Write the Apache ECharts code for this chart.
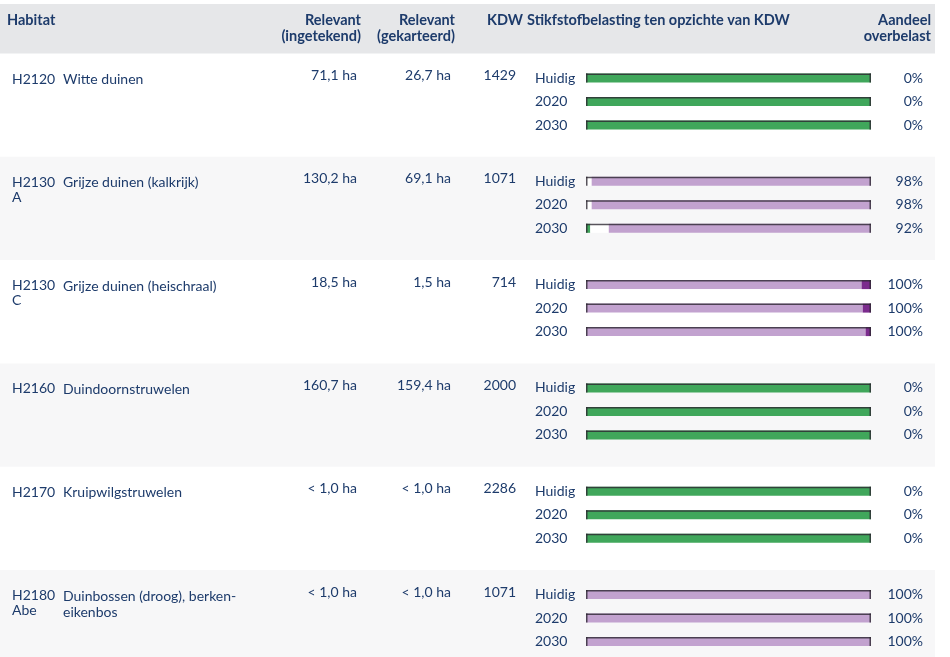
<!DOCTYPE html>
<html>
<head>
<meta charset="utf-8">
<script src="https://cdn.jsdelivr.net/npm/echarts@6/dist/echarts.min.js"></script>
<style>html,body{margin:0;padding:0;background:#fff}#c{width:950px;height:657px}</style>
</head>
<body>
<div id="c"></div>
<script>
// ---- data ----
const codes = ["H2120", "H2130\nA", "H2130\nC", "H2160", "H2170", "H2180\nAbe"];
const names = ["Witte duinen", "Grijze duinen (kalkrijk)", "Grijze duinen (heischraal)", "Duindoornstruwelen", "Kruipwilgstruwelen", "Duinbossen (droog), berken-\neikenbos"];
const ingetekend = ["71,1 ha", "130,2 ha", "18,5 ha", "160,7 ha", "< 1,0 ha", "< 1,0 ha"];
const gekarteerd = ["26,7 ha", "69,1 ha", "1,5 ha", "159,4 ha", "< 1,0 ha", "< 1,0 ha"];
const kdw = [1429, 1071, 714, 2000, 2286, 1071];
const years = ["Huidig", "2020", "2030"];
// share of area per class (%), per habitat, per year [Huidig, 2020, 2030]
const below = [[100, 100, 100], [0, 0, 1.5], [0, 0, 0], [100, 100, 100], [100, 100, 100], [0, 0, 0]];
const nearKdw = [[0, 0, 0], [2, 2, 6.5], [0, 0, 0], [0, 0, 0], [0, 0, 0], [0, 0, 0]];
const over = [[0, 0, 0], [98, 98, 92], [96.7, 97.1, 98.1], [0, 0, 0], [0, 0, 0], [100, 100, 100]];
const strongOver = [[0, 0, 0], [0, 0, 0], [3.3, 2.9, 1.9], [0, 0, 0], [0, 0, 0], [0, 0, 0]];
const overLabels = [["0%", "0%", "0%"], ["98%", "98%", "92%"], ["100%", "100%", "100%"], ["0%", "0%", "0%"], ["0%", "0%", "0%"], ["100%", "100%", "100%"]];
const headers = {
  habitat: "Habitat",
  rel1: "Relevant\n(ingetekend)",
  rel2: "Relevant\n(gekarteerd)",
  kdw: "KDW",
  stik: "Stikfstofbelasting ten opzichte van KDW",
  aandeel: "Aandeel\noverbelast"
};

// ---- layout ----
const FONT = "Lato";
const TXT = "#1d3b6b";
const rowTop0 = 53.5, rowH = 103.3, tableW = 935;
const barLeft = 586, barRight = 871, rowStep = 23.5, barH = 9;
const colors = { below: "#40a75b", near: "#ffffff", over: "#c2a2cf", strong: "#7b2b8d" };

const chart = echarts.init(document.getElementById('c'), null, { renderer: 'canvas' });

const grids = [], xAxes = [], yAxes = [], series = [], graphics = [];

// backgrounds
graphics.push({ type: 'rect', z: -10, shape: { x: 0, y: 4, width: tableW, height: rowTop0 - 4 }, style: { fill: '#e6e7e9' } });
codes.forEach((c, i) => {
  if (i % 2 === 1) {
    graphics.push({ type: 'rect', z: -10, shape: { x: 0, y: rowTop0 + i * rowH, width: tableW, height: rowH }, style: { fill: '#f7f7f8' } });
  }
});

function txt(text, x, y, align, opts) {
  opts = opts || {};
  graphics.push({
    type: 'text', z: 10, x: x, y: y,
    style: {
      text: text, align: align, verticalAlign: opts.va || 'middle',
      fill: TXT, fontFamily: FONT, fontSize: opts.size || 14,
      fontWeight: opts.bold ? 'bold' : 'normal', lineHeight: opts.lh || 16
    }
  });
}

// header
const HS = 14.5;
txt(headers.habitat, 7, 20, 'left', { bold: true, size: HS });
txt(headers.rel1, 361, 12, 'right', { bold: true, va: 'top', size: HS });
txt(headers.rel2, 455, 12, 'right', { bold: true, va: 'top', size: HS });
txt(headers.kdw, 487, 20, 'left', { bold: true, size: HS });
txt(headers.stik, 527, 20, 'left', { bold: true, size: HS });
txt(headers.aandeel, 931, 12, 'right', { bold: true, va: 'top', size: HS });

codes.forEach((code, i) => {
  const top = rowTop0 + i * rowH;
  txt(code, 12, top + 18, 'left', { va: 'top', lh: 15 });
  txt(names[i], 63, top + 18, 'left', { va: 'top', lh: 16 });
  txt(ingetekend[i], 357, top + 22, 'right');
  txt(gekarteerd[i], 451, top + 22, 'right');
  txt(String(kdw[i]), 516, top + 22, 'right');

  const gTop = top + 24.5 - rowStep / 2;
  grids.push({ left: barLeft, width: barRight - barLeft, top: gTop, height: rowStep * 3 });
  xAxes.push({ gridIndex: i, type: 'value', min: 0, max: 100, show: false });
  yAxes.push({
    gridIndex: i, type: 'category', data: years, inverse: true, position: 'left',
    axisLine: { show: false }, axisTick: { show: false }, splitLine: { show: false },
    axisLabel: { align: 'left', margin: barLeft - 535, color: TXT, fontFamily: FONT, fontSize: 14 }
  });
  yAxes.push({
    gridIndex: i, type: 'category', data: overLabels[i], inverse: true, position: 'right',
    axisLine: { show: false }, axisTick: { show: false }, splitLine: { show: false },
    axisLabel: { align: 'right', margin: 923 - barRight, color: TXT, fontFamily: FONT, fontSize: 14 }
  });
  const yIdx = i * 2;
  const seg = (name, arr, color) => ({
    type: 'bar', name: name, xAxisIndex: i, yAxisIndex: yIdx, stack: 's' + i,
    data: arr[i], barWidth: barH, itemStyle: { color: color }, silent: true, animation: false
  });
  series.push(seg('below', below, colors.below));
  series.push(seg('near', nearKdw, colors.near));
  series.push(seg('over', over, colors.over));
  series.push(seg('strong', strongOver, colors.strong));
  series.push({
    type: 'custom', xAxisIndex: i, yAxisIndex: yIdx, z: 5, silent: true, animation: false,
    data: years.map((y, k) => [100, k]),
    renderItem: function (params, api) {
      const p0 = api.coord([0, api.value(1)]);
      const p1 = api.coord([api.value(0), api.value(1)]);
      const h = barH, y0 = p0[1] - h / 2;
      const fill = 'rgba(45,40,50,0.8)';
      return {
        type: 'group', children: [
          { type: 'rect', shape: { x: p0[0], y: y0, width: p1[0] - p0[0], height: 1.5 }, style: { fill: fill } },
          { type: 'rect', shape: { x: p0[0], y: y0, width: 1.5, height: h }, style: { fill: fill } },
          { type: 'rect', shape: { x: p1[0] - 1.5, y: y0, width: 1.5, height: h }, style: { fill: fill } }
        ]
      };
    }
  });
});

chart.setOption({
  animation: false,
  backgroundColor: '#ffffff',
  grid: grids, xAxis: xAxes, yAxis: yAxes, series: series,
  graphic: graphics
});
</script>
</body>
</html>
